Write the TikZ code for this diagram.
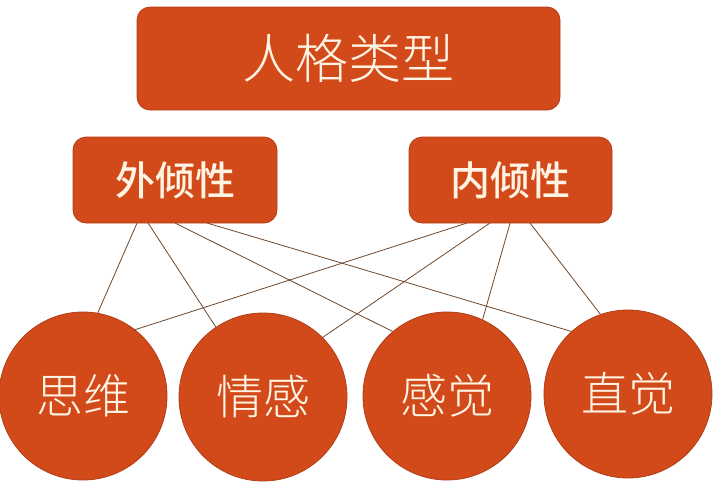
\documentclass[tikz,border=0pt]{standalone}
\usepackage{fontspec}
\newfontfamily\cjk{Noto Sans CJK SC}
\newfontfamily\cjklight{Noto Sans CJK SC}[UprightFont=* Light]
\newfontfamily\cjkmed{Noto Sans CJK SC}[UprightFont=* Medium]
\usetikzlibrary{calc,backgrounds}
\definecolor{boxfill}{RGB}{210,74,26}
\definecolor{boxedge}{RGB}{176,62,22}
\definecolor{txt}{RGB}{255,244,228}
\definecolor{linecol}{RGB}{110,72,44}
\tikzset{
  rbox/.style={draw=boxedge, line width=0.8pt, fill=boxfill, rounded corners=13pt,
    text=txt, inner sep=0pt, outer sep=0pt},
  rcirc/.style={circle, draw=boxedge, line width=0.8pt, fill=boxfill, text=txt,
    minimum size=168pt, inner sep=0pt, outer sep=0pt,
    font=\cjklight\fontsize{47}{47}\selectfont},
  link/.style={draw=linecol, line width=0.8pt}
}
\begin{document}
\begin{tikzpicture}[x=1pt,y=-1pt]
\useasboundingbox (0,0) rectangle (713,493);
\node[rbox, minimum width=423pt, minimum height=103pt,
  font=\cjklight\fontsize{53}{53}\selectfont] (top) at (348.5,58.5) {人格类型};
\node[rbox, minimum width=204pt, minimum height=86pt,
  font=\cjkmed\fontsize{40}{40}\selectfont] (ext) at (175,180) {外倾性};
\node[rbox, minimum width=203pt, minimum height=86pt,
  font=\cjkmed\fontsize{40}{40}\selectfont] (int) at (510.5,180) {内倾性};
\node[rcirc] (c1) at (83,396) {思维};
\node[rcirc] (c2) at (263,397) {情感};
\node[rcirc] (c3) at (447,396) {感觉};
\node[rcirc] (c4) at (628,394) {直觉};
\begin{pgfonlayer}{background}
\draw[link] ($(ext.south west)!0.314!(ext.south east)$) -- (c1.80);
\draw[link] ($(ext.south west)!0.368!(ext.south east)$) -- (c2.124);
\draw[link] ($(ext.south west)!0.5!(ext.south east)$) -- (c3.130);
\draw[link] ($(ext.south west)!0.657!(ext.south east)$) -- (c4.132);
\draw[link] ($(int.south west)!0.286!(int.south east)$) -- (c1.52);
\draw[link] ($(int.south west)!0.399!(int.south east)$) -- (c2.45);
\draw[link] ($(int.south west)!0.498!(int.south east)$) -- (c3.65);
\draw[link] ($(int.south west)!0.596!(int.south east)$) -- (c4.109);
\end{pgfonlayer}
\end{tikzpicture}
\end{document}
